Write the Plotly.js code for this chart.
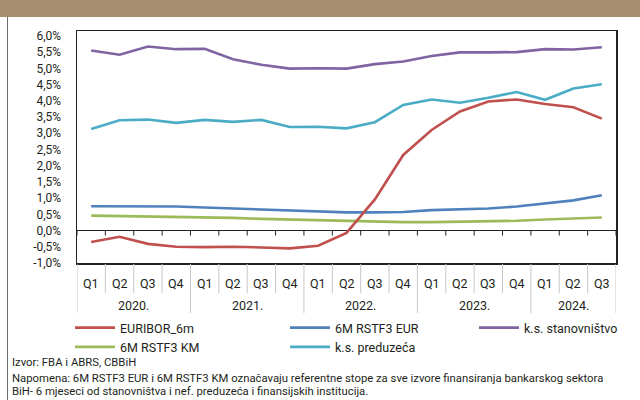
<!DOCTYPE html>
<html>
<head>
<meta charset="utf-8">
<script src="https://cdn.plot.ly/plotly-3.0.1.min.js"></script>
<style>
  html, body { margin: 0; padding: 0; background: #ffffff; }
  #wrap { position: relative; width: 640px; height: 400px; overflow: hidden; }
  #chart { position: absolute; left: 0; top: 0; width: 640px; height: 400px; }
  #band { position: absolute; left: 0; top: 0; width: 640px; height: 17px; background: #a68c70; pointer-events: none; }
  #edge { position: absolute; left: 7px; top: 17px; width: 1px; height: 383px; background: #6b6b6b; pointer-events: none; }
</style>
</head>
<body>
<div id="wrap">
  <div id="chart"></div>
  <div id="band"></div>
  <div id="edge"></div>
</div>
<script>
// ---- data ----
var periodYear = ['2020.','2020.','2020.','2020.','2021.','2021.','2021.','2021.','2022.','2022.','2022.','2022.','2023.','2023.','2023.','2023.','2024.','2024.','2024.'];
var periodQuarter = ['Q1','Q2','Q3','Q4','Q1','Q2','Q3','Q4','Q1','Q2','Q3','Q4','Q1','Q2','Q3','Q4','Q1','Q2','Q3'];

var euribor6m      = [-0.35,-0.19,-0.41,-0.50,-0.51,-0.50,-0.52,-0.55,-0.47,-0.07,0.96,2.33,3.10,3.67,3.98,4.04,3.90,3.80,3.45];
var rstf3Eur       = [0.75,0.75,0.75,0.74,0.71,0.68,0.64,0.61,0.58,0.56,0.56,0.57,0.63,0.66,0.68,0.74,0.83,0.93,1.09];
var rstf3Km        = [0.46,0.45,0.43,0.42,0.41,0.39,0.36,0.34,0.31,0.29,0.28,0.26,0.26,0.27,0.28,0.30,0.34,0.37,0.40];
var ksStanovnistvo = [5.55,5.42,5.67,5.59,5.60,5.28,5.11,4.99,5.00,4.99,5.13,5.21,5.38,5.49,5.49,5.50,5.59,5.58,5.65];
var ksPreduzeca    = [3.13,3.40,3.42,3.32,3.41,3.35,3.41,3.19,3.20,3.15,3.34,3.87,4.04,3.94,4.09,4.27,4.03,4.38,4.51];

var seriesNames = ['EURIBOR_6m','6M RSTF3 EUR','k.s. stanovništvo','6M RSTF3 KM','k.s. preduzeća'];

var yTickVals = [-1,-0.5,0,0.5,1,1.5,2,2.5,3,3.5,4,4.5,5,5.5,6];
var yTickText = ['-1,0%','-0,5%','0,0%','0,5%','1,0%','1,5%','2,0%','2,5%','3,0%','3,5%','4,0%','4,5%','5,0%','5,5%','6,0%'];

var sourceText = 'Izvor: FBA i ABRS, CBBiH';
var noteLine1 = 'Napomena: 6M RSTF3 EUR i 6M RSTF3 KM označavaju referentne stope za sve izvore finansiranja bankarskog sektora';
var noteLine2 = 'BiH- 6 mjeseci od stanovništva i nef. preduzeća i finansijskih institucija.';

// ---- styling ----
var FONT = 'Roboto, "Liberation Sans", sans-serif';
var TXT = '#231f20';
var SEP = '#c8c8c8';
var colors = ['#c0504d','#4f81bd','#8064a2','#9bbb59','#4bacc6'];
var values = [euribor6m, rstf3Eur, ksStanovnistvo, rstf3Km, ksPreduzeca];
var legendIds = ['legend','legend2','legend3','legend','legend2'];

var n = periodQuarter.length;
var xCats = periodQuarter.map(function (q, i) { return periodYear[i] + ' ' + q; });

var traces = [];
var drawOrder = [3,1,2,4,0];
drawOrder.forEach(function (k) {
  traces.push({
    type: 'scatter', mode: 'lines',
    x: xCats, y: values[k],
    name: seriesNames[k],
    legend: legendIds[k],
    legendrank: k,
    line: { color: colors[k], width: 2.6 },
    hoverinfo: 'skip'
  });
});

var L = 77, R = 616, T = 31, B = 263;
var W = R - L, H = B - T;
function px(x) { return (x - L) / W; }
function py(y) { return (B - y) / H; }

var shapes = [];
var annotations = [];
// ticks on the zero line and category separators below the plot
for (var i = 0; i <= n; i++) {
  shapes.push({
    type: 'line', xref: 'x', yref: 'y',
    x0: i - 0.5, x1: i - 0.5,
    ysizemode: 'pixel', yanchor: 0, y0: 0, y1: -5,
    line: { color: '#222222', width: 1 }
  });
  var yearEdge = (i === 0 || i === n || periodYear[i] !== periodYear[i - 1]);
  shapes.push({
    type: 'line', xref: 'x', yref: 'paper',
    x0: i - 0.5, x1: i - 0.5,
    ysizemode: 'pixel', yanchor: 0, y0: -1, y1: yearEdge ? -50 : -30,
    line: { color: SEP, width: 1 }
  });
}
// quarter labels
periodQuarter.forEach(function (q, i) {
  annotations.push({
    xref: 'x', yref: 'paper', x: i, y: py(283), xanchor: 'center', yanchor: 'middle',
    text: q, showarrow: false, font: { family: FONT, size: 12.5, color: TXT }
  });
});
// year labels centred on their groups
var start = 0;
for (var j = 1; j <= n; j++) {
  if (j === n || periodYear[j] !== periodYear[start]) {
    annotations.push({
      xref: 'x', yref: 'paper', x: (start + j - 1) / 2, y: py(305), xanchor: 'center', yanchor: 'middle',
      text: periodYear[start], showarrow: false, font: { family: FONT, size: 12.5, color: TXT }
    });
    start = j;
  }
}
// source and note
[[sourceText, 362], [noteLine1, 378], [noteLine2, 392]].forEach(function (t) {
  annotations.push({
    xref: 'paper', yref: 'paper', x: px(10), y: py(t[1]), xanchor: 'left', yanchor: 'middle',
    text: t[0], showarrow: false, font: { family: FONT, size: 11.3, color: TXT }
  });
});

var legendCommon = {
  orientation: 'v', xanchor: 'left', yanchor: 'top',
  font: { family: FONT, size: 12.5, color: TXT },
  bgcolor: 'rgba(0,0,0,0)', borderwidth: 0,
  tracegroupgap: 0, itemwidth: 40, traceorder: 'normal'
};
function legendAt(x) {
  var o = JSON.parse(JSON.stringify(legendCommon));
  o.x = px(x); o.y = py(313);
  return o;
}

var layout = {
  width: 640, height: 400,
  margin: { l: L, r: 640 - R, t: T, b: 400 - B, pad: 0 },
  paper_bgcolor: '#ffffff', plot_bgcolor: '#ffffff',
  font: { family: FONT, size: 12, color: TXT },
  showlegend: true,
  legend: legendAt(70),
  legend2: legendAt(285),
  legend3: legendAt(474),
  xaxis: {
    type: 'category',
    categoryorder: 'array', categoryarray: xCats,
    range: [-0.5, n - 0.5],
    showgrid: false, zeroline: false, showticklabels: false, ticks: '',
    showline: true, mirror: true, linecolor: '#222222', linewidth: 1.5
  },
  yaxis: {
    range: [-1, 6.15],
    tickmode: 'array', tickvals: yTickVals, ticktext: yTickText,
    showgrid: false,
    zeroline: true, zerolinecolor: '#222222', zerolinewidth: 1.5,
    showline: true, mirror: true, linecolor: '#222222', linewidth: 1.5,
    ticks: '', ticklabelstandoff: 12,
    tickfont: { family: FONT, size: 12, color: TXT }
  },
  shapes: shapes,
  annotations: annotations
};

Plotly.newPlot('chart', traces, layout, { staticPlot: true, displayModeBar: false });
</script>
</body>
</html>
